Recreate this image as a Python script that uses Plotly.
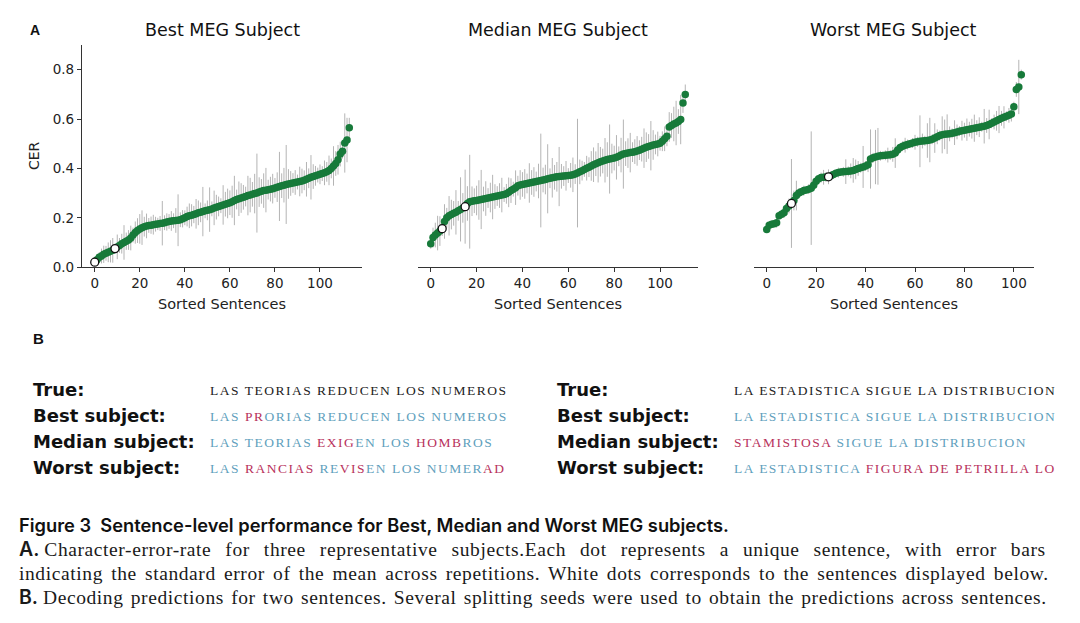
import plotly.graph_objects as go

W, H = 1080, 623

titles = ["Best MEG Subject", "Median MEG Subject", "Worst MEG Subject"]

best_cer = [0.020,0.030,0.040,0.045,0.052,0.056,0.060,0.064,0.068,0.075,
            0.082,0.088,0.095,0.100,0.105,0.110,0.118,0.130,0.140,0.148,
            0.155,0.160,0.164,0.167,0.169,0.170,0.172,0.174,0.175,0.177,
            0.178,0.180,0.183,0.185,0.187,0.188,0.189,0.190,0.192,0.196,
            0.200,0.205,0.208,0.210,0.213,0.216,0.220,0.222,0.225,0.228,
            0.230,0.233,0.236,0.240,0.243,0.246,0.249,0.252,0.255,0.258,
            0.261,0.265,0.270,0.274,0.277,0.280,0.283,0.286,0.290,0.292,
            0.295,0.298,0.300,0.304,0.307,0.310,0.312,0.314,0.316,0.318,
            0.321,0.324,0.327,0.330,0.332,0.335,0.337,0.339,0.341,0.343,
            0.345,0.347,0.349,0.352,0.356,0.360,0.364,0.367,0.370,0.373,
            0.376,0.379,0.382,0.386,0.392,0.400,0.410,0.420,0.435,0.458,
            0.470,0.503,0.515,0.565]
best_err = [0.01,0.015,0.02,0.03,0.035,0.03,0.04,0.045,0.05,0.02,
            0.05,0.03,0.04,0.07,0.035,0.04,0.05,0.03,0.045,0.05,
            0.06,0.07,0.04,0.05,0.03,0.035,0.04,0.03,0.025,0.03,
            0.09,0.03,0.035,0.03,0.04,0.03,0.05,0.105,0.03,0.035,
            0.03,0.04,0.05,0.045,0.035,0.06,0.05,0.04,0.10,0.03,
            0.04,0.09,0.03,0.07,0.05,0.04,0.03,0.08,0.05,0.06,
            0.05,0.065,0.10,0.04,0.07,0.06,0.05,0.04,0.08,0.07,
            0.05,0.08,0.16,0.06,0.05,0.07,0.09,0.04,0.05,0.06,
            0.04,0.06,0.14,0.05,0.07,0.16,0.06,0.05,0.04,0.05,
            0.03,0.06,0.05,0.04,0.07,0.04,0.09,0.05,0.04,0.03,
            0.04,0.03,0.05,0.04,0.06,0.04,0.08,0.05,0.06,0.05,
            0.03,0.12,0.09,0.04]
best_white = [0, 9]

median_cer = [0.095,0.120,0.130,0.138,0.146,0.156,0.185,0.200,0.208,0.213,
              0.218,0.222,0.228,0.234,0.240,0.245,0.258,0.265,0.267,0.269,
              0.270,0.272,0.274,0.276,0.278,0.280,0.282,0.284,0.286,0.288,
              0.290,0.292,0.294,0.297,0.303,0.310,0.316,0.322,0.330,0.333,
              0.335,0.337,0.339,0.341,0.343,0.345,0.347,0.349,0.351,0.353,
              0.355,0.358,0.360,0.362,0.364,0.366,0.367,0.368,0.369,0.370,
              0.371,0.372,0.374,0.377,0.381,0.386,0.391,0.396,0.401,0.405,
              0.410,0.415,0.419,0.423,0.427,0.430,0.433,0.436,0.438,0.440,
              0.442,0.445,0.449,0.454,0.458,0.460,0.462,0.464,0.466,0.468,
              0.471,0.474,0.478,0.482,0.486,0.489,0.492,0.495,0.497,0.499,
              0.502,0.510,0.520,0.530,0.568,0.574,0.580,0.584,0.590,0.598,
              0.665,0.700]
median_err = [0.02,0.04,0.05,0.07,0.06,0.03,0.07,0.04,0.08,0.06,
              0.05,0.09,0.04,0.13,0.06,0.15,0.07,0.19,0.06,0.05,
              0.06,0.08,0.12,0.05,0.07,0.04,0.06,0.09,0.05,0.04,
              0.05,0.07,0.03,0.04,0.06,0.05,0.03,0.07,0.04,0.06,
              0.05,0.06,0.04,0.08,0.05,0.06,0.04,0.07,0.19,0.05,
              0.06,0.14,0.04,0.08,0.05,0.06,0.12,0.05,0.04,0.06,
              0.03,0.05,0.07,0.04,0.22,0.05,0.04,0.03,0.05,0.04,
              0.06,0.07,0.05,0.08,0.06,0.05,0.09,0.07,0.14,0.06,
              0.05,0.09,0.04,0.07,0.14,0.05,0.06,0.08,0.04,0.05,
              0.06,0.04,0.05,0.08,0.06,0.05,0.10,0.06,0.04,0.05,
              0.03,0.04,0.05,0.04,0.06,0.05,0.07,0.09,0.05,0.10,
              0.04,0.04]
median_white = [5, 15]

worst_cer = [0.152,0.170,0.174,0.176,0.180,0.208,0.214,0.220,0.238,0.248,
             0.258,0.270,0.290,0.300,0.305,0.310,0.313,0.316,0.320,0.332,
             0.348,0.358,0.363,0.364,0.365,0.366,0.370,0.375,0.380,0.383,
             0.385,0.386,0.387,0.388,0.390,0.392,0.396,0.400,0.403,0.406,
             0.410,0.415,0.438,0.443,0.446,0.449,0.451,0.452,0.453,0.454,
             0.455,0.457,0.462,0.475,0.485,0.490,0.494,0.497,0.500,0.503,
             0.506,0.508,0.510,0.511,0.512,0.513,0.515,0.518,0.523,0.528,
             0.533,0.536,0.538,0.539,0.540,0.542,0.545,0.548,0.551,0.553,
             0.555,0.557,0.559,0.561,0.563,0.565,0.567,0.569,0.571,0.574,
             0.578,0.583,0.588,0.593,0.598,0.603,0.607,0.611,0.615,0.620,
             0.650,0.720,0.730,0.780]
worst_err = [0.01,0.01,0.015,0.01,0.02,0.015,0.01,0.02,0.015,0.03,
             0.18,0.04,0.06,0.02,0.015,0.02,0.01,0.02,0.23,0.02,
             0.015,0.01,0.02,0.03,0.02,0.03,0.02,0.015,0.01,0.02,
             0.015,0.02,0.05,0.02,0.03,0.05,0.04,0.03,0.02,0.085,
             0.02,0.03,0.12,0.02,0.11,0.115,0.02,0.015,0.02,0.03,
             0.02,0.03,0.06,0.02,0.015,0.02,0.03,0.02,0.015,0.02,
             0.03,0.02,0.105,0.03,0.02,0.07,0.09,0.02,0.06,0.03,
             0.02,0.075,0.06,0.08,0.03,0.02,0.05,0.03,0.02,0.04,
             0.03,0.045,0.03,0.04,0.055,0.03,0.04,0.02,0.07,0.03,
             0.06,0.02,0.03,0.04,0.055,0.03,0.045,0.02,0.03,0.03,
             0.02,0.03,0.11,0.02]
worst_white = [10, 25]

y_ticks = [0.0, 0.2, 0.4, 0.6, 0.8]
x_ticks = [0, 20, 40, 60, 80, 100]

BLUE = "#5f9fbd"
RED = "#b8325c"
GREEN = "#177a3a"

sent_labels = ["True:", "Best subject:", "Median subject:", "Worst subject:"]
sentences_left = [
    [("LAS TEORIAS REDUCEN LOS NUMEROS", "#222222")],
    [("LAS ", BLUE), ("PR", RED), ("ORIAS REDUCEN LOS NUMEROS", BLUE)],
    [("LAS TEORIAS ", BLUE), ("EXIG", RED), ("EN LOS ", BLUE), ("HOMB", RED), ("ROS", BLUE)],
    [("LAS ", BLUE), ("RANCIAS", RED), (" RE", BLUE), ("VIS", RED), ("EN LOS NUMER", BLUE), ("AD", RED)],
]
sentences_right = [
    [("LA ESTADISTICA SIGUE LA DISTRIBUCION", "#222222")],
    [("LA ESTADISTICA SIGUE LA DISTRIBUCION", BLUE)],
    [("STAMISTOSA", RED), (" SIGUE LA DISTRIBUCION", BLUE)],
    [("LA ESTADISTICA ", BLUE), ("FIGURA DE PETRILLA LO", RED)],
]

caption_title = "Figure 3  Sentence-level performance for Best, Median and Worst MEG subjects."
caption_lines = [
    ("A.", "Character-error-rate for three representative subjects.Each dot represents a unique sentence, with error bars"),
    ("", "indicating the standard error of the mean across repetitions. White dots corresponds to the sentences displayed below."),
    ("B.", "Decoding predictions for two sentences. Several splitting seeds were used to obtain the predictions across sentences."),
]

YS = 1.0135

def px(x):
    return x / W

def py(y):
    return 1 - (y * YS) / H

panels = [
    (best_cer, best_err, best_white, (82, 362), (-5.65, 118.65)),
    (median_cer, median_err, median_white, (418, 698), (-5.55, 116.55)),
    (worst_cer, worst_err, worst_white, (754, 1034), (-5.15, 108.15)),
]

fig = go.Figure()
layout = dict(
    width=W, height=H, margin=dict(l=0, r=0, t=0, b=0),
    paper_bgcolor="white", plot_bgcolor="white", showlegend=False,
    font=dict(family="DejaVu Sans", color="#222222"),
)
annotations = []
tickfont = dict(family="DejaVu Sans", size=13.5, color="#222222")

for i, (vals, errs, whites, (x0, x1), xr) in enumerate(panels):
    xs = list(range(len(vals)))
    xa = "x" if i == 0 else f"x{i+1}"
    ya = "y" if i == 0 else f"y{i+1}"
    fig.add_trace(go.Scatter(
        x=xs, y=vals, mode="markers", xaxis=xa, yaxis=ya,
        marker=dict(size=7.5, color=GREEN),
        error_y=dict(type="data", array=errs, width=0, thickness=1, color="#b4b4b4"),
    ))
    fig.add_trace(go.Scatter(
        x=whites, y=[vals[k] for k in whites], mode="markers", xaxis=xa, yaxis=ya,
        marker=dict(size=8, color="white", line=dict(color="#111111", width=1.3)),
    ))
    xkey = "xaxis" if i == 0 else f"xaxis{i+1}"
    ykey = "yaxis" if i == 0 else f"yaxis{i+1}"
    layout[xkey] = dict(
        domain=[px(x0), px(x1)], range=list(xr), anchor=ya,
        showline=True, linecolor="#333333", linewidth=1.2,
        ticks="outside", ticklen=4, tickwidth=1.2, tickcolor="#333333",
        tickvals=x_ticks, tickfont=tickfont, showgrid=False, zeroline=False,
    )
    layout[ykey] = dict(
        domain=[py(267), py(45)], range=[0, 0.9], anchor=xa,
        showline=(i == 0), linecolor="#333333", linewidth=1.2,
        ticks="outside" if i == 0 else "", ticklen=4, tickwidth=1.2, tickcolor="#333333",
        tickvals=y_ticks, ticktext=[f"{v:.1f}" for v in y_ticks],
        showticklabels=(i == 0), tickfont=tickfont, showgrid=False, zeroline=False,
    )
    cx = (x0 + x1) / 2
    annotations.append(dict(text=titles[i], x=px(cx), y=py(30), xref="paper", yref="paper",
                            showarrow=False, xanchor="center", yanchor="middle",
                            font=dict(family="DejaVu Sans", size=17.5, color="#111111")))
    annotations.append(dict(text="Sorted Sentences", x=px(cx), y=py(304), xref="paper", yref="paper",
                            showarrow=False, xanchor="center", yanchor="middle",
                            font=dict(family="DejaVu Sans", size=14.5, color="#222222")))

annotations.append(dict(text="CER", x=px(34), y=py(156), xref="paper", yref="paper", textangle=-90,
                        showarrow=False, xanchor="center", yanchor="middle",
                        font=dict(family="DejaVu Sans", size=14, color="#222222")))
annotations.append(dict(text="<b>A</b>", x=px(28), y=py(30), xref="paper", yref="paper",
                        showarrow=False, xanchor="left", yanchor="middle",
                        font=dict(family="Liberation Sans", size=14, color="#111111")))
annotations.append(dict(text="<b>B</b>", x=px(31), y=py(338), xref="paper", yref="paper",
                        showarrow=False, xanchor="left", yanchor="middle",
                        font=dict(family="Liberation Sans", size=15, color="#111111")))

row_y = [389, 415, 441, 467]
SENT_STYLE = "letter-spacing:1.5px"

def sentence_html(parts):
    return "".join(f"<span style='color:{c};{SENT_STYLE}'>{t}</span>" for t, c in parts)

for (lab_x, sent_x, sents) in [(31, 208, sentences_left), (555, 732, sentences_right)]:
    for k in range(4):
        annotations.append(dict(text=f"<b>{sent_labels[k]}</b>", x=px(lab_x), y=py(row_y[k]), xref="paper", yref="paper",
                                showarrow=False, xanchor="left", yanchor="middle",
                                font=dict(family="DejaVu Sans", size=18, color="#111111")))
        annotations.append(dict(text=sentence_html(sents[k]), x=px(sent_x), y=py(row_y[k] + 1), xref="paper", yref="paper",
                                showarrow=False, xanchor="left", yanchor="middle",
                                font=dict(family="Liberation Serif", size=13.5, color="#222222")))

annotations.append(dict(text=caption_title, x=px(17), y=py(525), xref="paper", yref="paper",
                        showarrow=False, xanchor="left", yanchor="middle",
                        font=dict(family="Inter", size=18.3, color="#111111", weight=600)))

cap_y = [549, 573, 597]
word_sp = ["8.5px", "2.7px", "1.7px"]
for k, (lead, body) in enumerate(caption_lines):
    html = ""
    if lead:
        html += f"<span style='font-family:Inter;font-weight:600'>{lead}</span> "
    html += f"<span style='letter-spacing:0.6px;word-spacing:{word_sp[k]}'>{body}</span>"
    annotations.append(dict(text=html, x=px(17), y=py(cap_y[k]), xref="paper", yref="paper",
                            showarrow=False, xanchor="left", yanchor="middle",
                            font=dict(family="Liberation Serif", size=19.5, color="#1a1a1a")))

layout["annotations"] = annotations
fig.update_layout(**layout)
fig.write_html("out.html", config={"displayModeBar": False},
               post_script="document.body.style.margin='0';document.body.style.padding='0';")
